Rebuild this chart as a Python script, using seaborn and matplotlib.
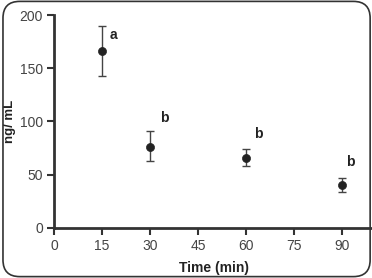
import numpy as np
import pandas as pd
import seaborn as sns
import matplotlib.pyplot as plt
from matplotlib.patches import FancyBboxPatch

# Data
times = [15, 30, 60, 90]
conc = [166, 76, 66, 40]
err_low = [143, 63, 58, 34]
err_high = [190, 91, 74, 47]
letters = ['a', 'b', 'b', 'b']
letter_x = [18.5, 34.5, 64, 92.5]
letter_y = [181, 103, 88, 62]

df = pd.DataFrame({'Time': times, 'Conc': conc})

sns.set_style("white")
plt.rcParams['font.family'] = ['Liberation Sans', 'DejaVu Sans']

fig = plt.figure(figsize=(3.72, 2.78), dpi=100)
ax = fig.add_axes([0.145, 0.18, 0.86, 0.766])

yerr = np.array([np.array(conc) - np.array(err_low), np.array(err_high) - np.array(conc)])
ax.errorbar(times, conc, yerr=yerr, fmt='none', ecolor='#444444', elinewidth=1.0,
            capsize=3, capthick=1.0, zorder=2)
sns.scatterplot(data=df, x='Time', y='Conc', color='#222222', s=34, edgecolor='#222222',
                ax=ax, zorder=3)

for lx, ly, lt in zip(letter_x, letter_y, letters):
    ax.text(lx, ly, lt, fontsize=10, fontweight='bold', color='#222222', ha='center', va='center')

ax.set_xlim(0, 100)
ax.set_ylim(0, 200)
ax.set_xticks([0, 15, 30, 45, 60, 75, 90])
ax.set_yticks([0, 50, 100, 150, 200])
ax.set_xlabel('Time (min)', fontweight='bold', fontsize=10, color='#222222', labelpad=6)
ax.set_ylabel('ng/ mL', fontweight='bold', fontsize=9.5, color='#222222')
ax.yaxis.set_label_coords(-0.12, 0.5)

for side in ['top', 'right']:
    ax.spines[side].set_visible(False)
for side in ['left', 'bottom']:
    ax.spines[side].set_color('#333333')
    ax.spines[side].set_linewidth(2)
ax.tick_params(axis='both', direction='out', length=5, width=1.5, color='#333333',
               labelsize=10, labelcolor='#444444', bottom=True, left=True, pad=3)
ax.set_facecolor('none')

# rounded outer frame
frame = FancyBboxPatch((0.008, 0.005), 0.987, 0.99, boxstyle='round,pad=0,rounding_size=0.045',
                       transform=fig.transFigure, facecolor='none', edgecolor='#333333',
                       linewidth=1.2, mutation_aspect=372 / 278)
fig.patches.append(frame)

fig.savefig('out.png', dpi=100)
